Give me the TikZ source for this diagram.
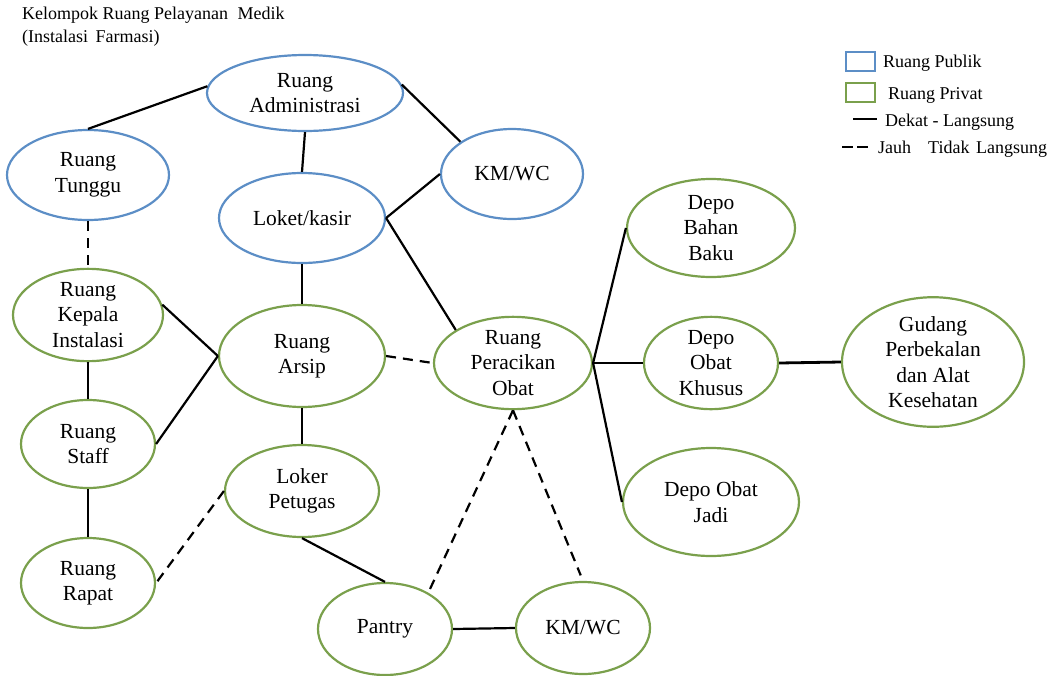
\documentclass[tikz,border=0pt]{standalone}
\usepackage{fontspec}
\setmainfont{Liberation Serif}
\usetikzlibrary{shapes.geometric}
\definecolor{pubblue}{RGB}{92,142,198}
\definecolor{privgreen}{RGB}{122,160,76}
\tikzset{
  room/.style={ellipse, draw, line width=2.2pt, inner sep=0pt, align=center,
    font=\fontsize{21.5}{25.5}\selectfont, text=black},
  pub/.style={room, draw=pubblue},
  priv/.style={room, draw=privgreen},
  near/.style={draw=black, line width=2.2pt},
  thick near/.style={draw=black, line width=2.8pt},
  far/.style={draw=black, line width=2.2pt, dash pattern=on 10pt off 7pt},
  legtext/.style={anchor=west, inner sep=0pt, font=\fontsize{18}{21}\selectfont},
  legbox/.style={draw, line width=2.2pt, minimum width=29pt, minimum height=19pt, inner sep=0pt}
}
\begin{document}
\begin{tikzpicture}[x=1pt,y=-1pt]
\useasboundingbox (0,0) rectangle (1059,675);

% title
\node[anchor=north west, inner sep=0pt, align=left, font=\fontsize{18}{22.5}\selectfont] (title) at (22,7)
  {Kelompok Ruang Pelayanan\hspace{5pt} Medik\\(Instalasi\hspace{3pt} Farmasi)};

% rooms
\node[pub, minimum width=196pt, minimum height=76pt] (adm) at (305,93) {Ruang\\Administrasi};
\node[pub, minimum width=162pt, minimum height=90pt] (tun) at (88,175) {Ruang\\Tunggu};
\node[pub, minimum width=166pt, minimum height=90pt] (lok) at (302,218) {Loket/kasir};
\node[pub, minimum width=142pt, minimum height=90pt] (kmt) at (512,174) {KM/WC};
\node[priv, minimum width=150pt, minimum height=90pt] (kep) at (88,315) {Ruang\\Kepala\\Instalasi};
\node[priv, minimum width=166pt, minimum height=102pt] (ars) at (302,356) {Ruang\\Arsip};
\node[priv, minimum width=158pt, minimum height=90pt] (per) at (513,363) {Ruang\\Peracikan\\Obat};
\node[priv, minimum width=168pt, minimum height=98pt] (dbb) at (711,228) {Depo\\Bahan\\Baku};
\node[priv, minimum width=134pt, minimum height=92pt] (dok) at (711,363) {Depo\\Obat\\Khusus};
\node[priv, minimum width=182pt, minimum height=120pt] (gud) at (933,362) {Gudang\\Perbekalan\\dan Alat\\Kesehatan};
\node[priv, minimum width=176pt, minimum height=108pt] (doj) at (711,502) {Depo Obat\\Jadi};
\node[priv, minimum width=134pt, minimum height=88pt] (stf) at (88,444) {Ruang\\Staff};
\node[priv, minimum width=134pt, minimum height=90pt] (rap) at (88,583) {Ruang\\Rapat};
\node[priv, minimum width=154pt, minimum height=92pt] (lkr) at (302,491) {Loker\\Petugas};
\node[priv, minimum width=134pt, minimum height=92pt] (pan) at (385,629) {Pantry};
\node[priv, minimum width=134pt, minimum height=92pt] (kmb) at (583,628) {KM/WC};

% connectors
\draw[near] (adm.176) -- (tun.north);
\draw[near] (adm.south) -- (lok.north);
\draw[near] (adm.5) -- (kmt.148);
\draw[near] (lok.east) -- (kmt.west);
\draw[near] (lok.east) -- (per.150);
\draw[near] (lok.south) -- (ars.north);
\draw[near] (ars.west) -- (kep.8);
\draw[near] (ars.west) -- (stf.east);
\draw[far] (tun.south) -- (kep.north);
\draw[near] (kep.south) -- (stf.north);
\draw[near] (stf.south) -- (rap.north);
\draw[far] (ars.east) -- (per.west);
\draw[near] (ars.south) -- (lkr.north);
\draw[far] (lkr.west) -- (rap.east);
\draw[near] (lkr.south) -- (pan.north);
\draw[near] (pan.east) -- (kmb.west);
\draw[far, shorten >=4pt] (per.south) -- (pan.40);
\draw[far, shorten >=6pt] (per.south) -- (kmb.north);
\draw[near] (per.east) -- (dbb.west);
\draw[thick near] (per.east) -- (dok.west);
\draw[near] (per.east) -- (doj.west);
\draw[thick near] (dok.east) -- (gud.west);

% legend
\node[legbox, draw=pubblue] (lbpub) at (860.5,61.5) {};
\node[legtext] (ltpub) at (883,63) {Ruang Publik};
\node[legbox, draw=privgreen] (lbpriv) at (860.5,92.5) {};
\node[legtext] (ltpriv) at (888,95) {Ruang Privat};
\coordinate (lsa) at (853,119);
\coordinate (lsb) at (877,119);
\draw[near] (lsa) -- (lsb);
\node[legtext] (ltnear) at (885,122) {Dekat - Langsung};
\coordinate (lda) at (842,147);
\coordinate (ldb) at (868,147);
\draw[black, line width=2pt, dash pattern=on 11pt off 4pt] (lda) -- (ldb);
\node[legtext] (ltfar) at (878,149) {Jauh\hspace{17pt}Tidak\hspace{2pt} Langsung};
\end{tikzpicture}
\end{document}
